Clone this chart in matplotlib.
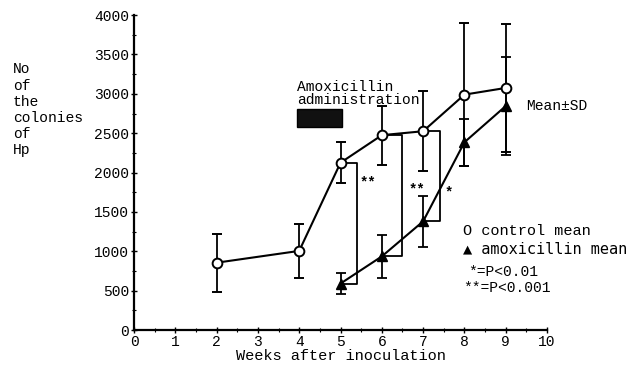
import matplotlib
matplotlib.use("Agg")
import matplotlib.pyplot as plt
from matplotlib.ticker import MultipleLocator

# values
weeks_ctrl = [2, 4, 5, 6, 7, 8, 9]
ctrl_mean = [855, 1005, 2125, 2475, 2525, 2990, 3075]
ctrl_sd = [370, 340, 260, 375, 510, 910, 810]

weeks_amox = [5, 6, 7, 8, 9]
amox_mean = [590, 935, 1380, 2385, 2845]
amox_sd = [135, 275, 320, 300, 620]

# significance brackets: week, right edge of bracket, label
brk_weeks = [5, 6, 7]
brk_right = [5.39, 6.5, 7.41]
brk_label = ["**", "**", "*"]
star_x = [5.67, 6.85, 7.63]
star_y = [1870, 1790, 1750]

plt.rcParams['font.family'] = ['Liberation Mono', 'DejaVu Sans Mono']
plt.rcParams['font.size'] = 10.5

fig = plt.figure(figsize=(6.36, 3.67), dpi=100)
ax = fig.add_axes([0.2107, 0.1008, 0.6494, 0.858])

ax.errorbar(weeks_ctrl, ctrl_mean, yerr=ctrl_sd, color='black', lw=1.5,
            elinewidth=1.3, capsize=3.5, capthick=1.3, marker='o',
            markersize=7, markerfacecolor='white', markeredgecolor='black',
            markeredgewidth=1.4, zorder=3)
ax.errorbar(weeks_amox, amox_mean, yerr=amox_sd, color='black', lw=1.5,
            elinewidth=1.3, capsize=3.5, capthick=1.3, marker='^',
            markersize=7, markerfacecolor='black', zorder=3)

for wk, xr, lab, sx, sy in zip(brk_weeks, brk_right, brk_label, star_x, star_y):
    ytop = ctrl_mean[weeks_ctrl.index(wk)]
    ybot = amox_mean[weeks_amox.index(wk)]
    ax.plot([wk, xr, xr, wk], [ytop, ytop, ybot, ybot], color='black', lw=1.3, zorder=2)
    ax.text(sx, sy, lab, ha='center', va='center', fontsize=10, fontweight='bold')

# amoxicillin administration bar
ax.add_patch(plt.Rectangle((3.94, 2573), 1.09, 233, facecolor='#111111',
                           edgecolor='black', zorder=2))
ax.text(3.94, 2830, "Amoxicillin\nadministration", ha='left', va='bottom',
        fontsize=10.5, linespacing=0.95)

ax.text(9.5, 2850, "Mean\u00b1SD", ha='left', va='center', fontsize=10.5)

ax.set_xlim(0, 10)
ax.set_ylim(0, 4000)
ax.xaxis.set_major_locator(MultipleLocator(1))
ax.xaxis.set_minor_locator(MultipleLocator(0.5))
ax.yaxis.set_major_locator(MultipleLocator(500))
ax.yaxis.set_minor_locator(MultipleLocator(250))
ax.tick_params(which='major', direction='inout', length=4, width=1, pad=1.5, labelsize=10.5)
ax.tick_params(which='minor', direction='inout', length=2.5, width=0.8)
ax.spines['top'].set_visible(False)
ax.spines['right'].set_visible(False)
ax.spines['left'].set_linewidth(1.6)
ax.spines['bottom'].set_linewidth(1.6)

ax.set_xlabel("Weeks after inoculation", fontsize=11, labelpad=0)
fig.text(0.02, 0.83, "No\nof\nthe\ncolonies\nof\nHp", ha='left', va='top',
         fontsize=10.5, linespacing=1.2)

# legend drawn as text
fig.text(0.728, 0.37, "O control mean", fontsize=11, va='center')
fig.text(0.728, 0.321, "\u25b2 amoxicillin mean", fontsize=11, va='center',
         family=['DejaVu Sans Mono'])
fig.text(0.736, 0.26, "*=P<0.01", fontsize=10.5, va='center')
fig.text(0.728, 0.215, "**=P<0.001", fontsize=10.5, va='center')

fig.savefig("out.png", dpi=100)
